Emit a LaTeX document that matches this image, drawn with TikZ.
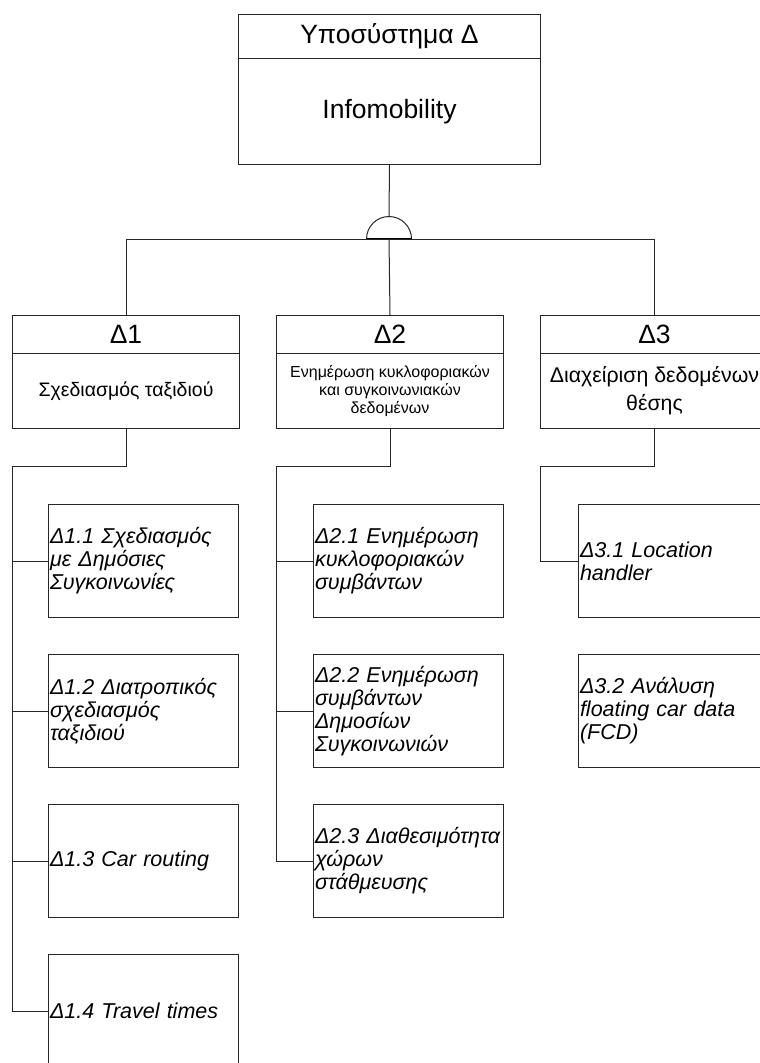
\documentclass[tikz,border=0pt]{standalone}
\usepackage{fontspec}
\setmainfont{Liberation Sans}
\usetikzlibrary{calc}
\begin{document}
\begin{tikzpicture}[x=1pt,y=-1pt,
  ln/.style={draw=black!85, line width=1pt},
  boxbase/.style={ln, rectangle, inner sep=0pt, anchor=north west, align=center},
  tophdr/.style={boxbase, minimum width=302pt, minimum height=44pt, font=\fontsize{26.5}{30}\selectfont},
  topbody/.style={boxbase, minimum width=302pt, minimum height=106pt, font=\fontsize{26.5}{30}\selectfont},
  hdr/.style={boxbase, minimum width=227pt, minimum height=38pt, font=\fontsize{26.5}{30}\selectfont},
  body/.style={boxbase, minimum width=227pt, minimum height=75pt, font=\fontsize{19.5}{25}\selectfont},
  smallbody/.style={body, font=\fontsize{16}{18}\selectfont},
  widebody/.style={body, font=\fontsize{21.3}{28}\selectfont},
  sub/.style={boxbase, minimum width=190pt, minimum height=113pt, text width=187pt,
    inner xsep=1.5pt, align=left, font=\itshape\fontsize{21.5}{23}\selectfont},
  wire/.style={ln}
]
\clip (0,0) rectangle (760,1063);
\useasboundingbox (0,0) rectangle (760,1063);

% subsystem box
\node[tophdr] (topH) at (238,14) {Υποσύστημα Δ};
\node[topbody] (topB) at (238,58) {Infomobility};

% second level
\node[hdr] (d1H) at (12,315) {Δ1};
\node[body] (d1B) at (12,353) {Σχεδιασμός ταξιδιού};
\node[hdr] (d2H) at (276,315) {Δ2};
\node[smallbody] (d2B) at (276,353) {Ενημέρωση κυκλοφοριακών\\και συγκοινωνιακών\\δεδομένων};
\node[hdr, minimum width=228pt] (d3H) at (540,315) {Δ3};
\node[widebody, minimum width=228pt] (d3B) at (540,353) {Διαχείριση δεδομένων\\θέσης};

% leaves of Δ1
\node[sub] (s11) at (48,504) {Δ1.1 Σχεδιασμός\\με Δημόσιες\\Συγκοινωνίες};
\node[sub] (s12) at (48,654) {Δ1.2 Διατροπικός\\σχεδιασμός\\ταξιδιού};
\node[sub] (s13) at (48,804) {Δ1.3 Car routing};
\node[sub] (s14) at (48,954) {Δ1.4 Travel times};

% leaves of Δ2
\node[sub] (s21) at (313,504) {Δ2.1 Ενημέρωση\\κυκλοφοριακών\\συμβάντων};
\node[sub] (s22) at (313,654) {Δ2.2 Ενημέρωση\\συμβάντων\\Δημοσίων\\Συγκοινωνιών};
\node[sub] (s23) at (313,804) {Δ2.3 Διαθεσιμότητα\\χώρων\\στάθμευσης};

% leaves of Δ3
\node[sub] (s31) at (578,504) {Δ3.1 Location\\handler};
\node[sub] (s32) at (578,654) {Δ3.2 Ανάλυση\\floating car data\\(FCD)};

% AND junction under the subsystem box
\coordinate (and) at (389,239);
\draw[wire] (topB.south) -- ($(and)+(0,-22)$);
\draw[wire] ($(and)+(-22.5,0)$) arc[start angle=180, end angle=360, radius=22.5];
\draw[line width=1.8pt] ($(and)+(-22.5,0)$) -- ($(and)+(22.5,0)$);
\draw[wire] (d1H.north) -- (d1H.north |- and) -- (d3H.north |- and) -- (d3H.north);
\draw[wire] (and) -- (d2H.north);

% Δ1 branch
\coordinate (t1) at (d1H.west |- 0,466);
\draw[wire] (d1B.south) |- (t1) |- (s14.west);
\foreach \s in {s11,s12,s13}
  \draw[wire] (t1 |- \s.west) -- (\s.west);

% Δ2 branch
\coordinate (t2) at (d2H.west |- 0,466);
\draw[wire] (d2B.south) |- (t2) |- (s23.west);
\foreach \s in {s21,s22}
  \draw[wire] (t2 |- \s.west) -- (\s.west);

% Δ3 branch
\coordinate (t3) at (d3H.west |- 0,466);
\draw[wire] (d3B.south) |- (t3) |- (s31.west);
\end{tikzpicture}
\end{document}
